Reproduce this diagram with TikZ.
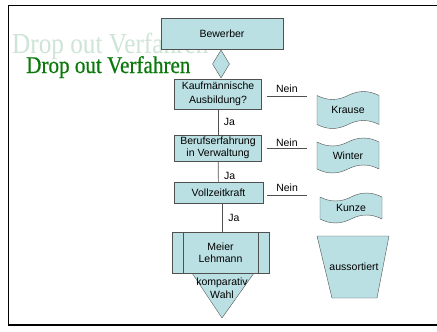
\documentclass[tikz,border=0pt]{standalone}
\usepackage{fontspec}
\usepackage{graphicx}
\setmainfont{Liberation Sans}
\newfontfamily\titlefont[FakeBold=0.6]{Liberation Serif}
\newfontfamily\ghostfont{Liberation Serif}
\usetikzlibrary{shapes.geometric}

\definecolor{boxfill}{RGB}{187,224,227}
\definecolor{titlegreen}{RGB}{10,120,10}
\definecolor{ghostgreen}{RGB}{206,228,214}
\definecolor{linegray}{RGB}{80,80,80}

\tikzset{
  flowbox/.style={draw=linegray, fill=boxfill, inner sep=0pt, align=center,
    font=\fontsize{10.5}{12.5}\selectfont},
  conn/.style={draw=linegray, line width=0.7pt},
  lab/.style={inner sep=1.5pt, font=\fontsize{10.5}{12.5}\selectfont},
}

% lochstreifen: mitte x, mitte y, breite, hoehe
\newcommand{\bandform}[4]{%
  \filldraw[draw=linegray, fill=boxfill, shift={(#1-#3/2,#2-#4/2)}]
    (0,4) .. controls ({#3/6},9.3) and ({#3/3},9.3) .. ({#3/2},4)
          .. controls ({2*#3/3},-1.3) and ({5*#3/6},-1.3) .. (#3,4)
    -- (#3,{#4-4})
          .. controls ({5*#3/6},{#4-9.3}) and ({2*#3/3},{#4-9.3}) .. ({#3/2},{#4-4})
          .. controls ({#3/3},{#4+1.3}) and ({#3/6},{#4+1.3}) .. (0,{#4-4})
    -- cycle;}

\begin{document}
\begin{tikzpicture}[x=1pt, y=-1pt]
\useasboundingbox (0,0) rectangle (437,332);
\fill[white] (0,0) rectangle (437,332);
\draw[line width=1.8pt] (437,5.5) -- (8.5,5.5) -- (8.5,325) -- (437,325);

% titel
\node (ghost) [anchor=base west, inner sep=0pt, text=ghostgreen,
  font=\ghostfont\fontsize{29}{30}\selectfont] at (12,53) {\scalebox{0.87}[1]{Drop out Verfahren}};
\node (titel) [anchor=base west, inner sep=0pt, text=titlegreen,
  font=\titlefont\fontsize{24}{26}\selectfont] at (26,73) {\scalebox{0.88}[1]{Drop out Verfahren}};

% ablauf
\node (bewerber) [flowbox, minimum width=122pt, minimum height=31pt] at (222,33.5) {Bewerber};
\node (entscheid) [diamond, draw=linegray, fill=boxfill, inner sep=0pt,
  minimum width=17pt, minimum height=28pt] at (221,64) {};
\node (kauf) [flowbox, minimum width=87pt, minimum height=30pt,
  font=\fontsize{10.5}{14}\selectfont] at (218,94) {Kaufmännische\\Ausbildung?};
\node (beruf) [flowbox, minimum width=87pt, minimum height=26pt] at (218,148) {Berufserfahrung\\in Verwaltung};
\node (voll) [flowbox, minimum width=89pt, minimum height=21pt] at (218.5,192.5) {Vollzeitkraft};

\filldraw[draw=linegray, fill=boxfill] (192,273) -- (254,273) -- (222,318) -- cycle;
\node (wahl) [lab, align=center, inner sep=0pt] at (222,288) {komparativ\\Wahl};
\node (meier) [flowbox, minimum width=97pt, minimum height=41pt] at (220.5,252.5) {Meier\\Lehmann};
\draw[linegray] ([xshift=11pt]meier.north west) -- ([xshift=11pt]meier.south west);
\draw[linegray] ([xshift=-11pt]meier.north east) -- ([xshift=-11pt]meier.south east);

\draw[conn] (kauf) -- (beruf) node[lab, midway, right, xshift=4pt] {Ja};
\draw[conn] (beruf) -- (voll) node[lab, pos=.7, right, xshift=4pt] {Ja};
\draw[conn] ([xshift=4pt]voll.south) -- ([xshift=4pt]voll.south |- meier.north)
  node[lab, midway, right, xshift=4pt] {Ja};

% absagen
\bandform{348}{110}{62}{37}
\node (krause) [lab] at (348,110) {Krause};
\bandform{348}{155.5}{62}{35}
\node (winter) [lab] at (348,156) {Winter};
\bandform{351}{208}{62}{30}
\node (kunze) [lab] at (351,208) {Kunze};
\filldraw[draw=linegray, fill=boxfill] (317,236) -- (389,236) -- (377,298) -- (332,298) -- cycle;
\node (aus) [lab] at (354,267) {aussortiert};

\coordinate (neinA) at (307,96);
\coordinate (neinB) at (307,148);
\coordinate (neinC) at (307,195);
\draw[conn] (kauf.east |- neinA) ++(5,0) -- (neinA) node[lab, midway, above, yshift=2pt] {Nein};
\draw[conn] (beruf.east |- neinB) ++(5,0) -- (neinB) node[lab, midway, above] {Nein};
\draw[conn] (voll.east |- neinC) ++(4,0) -- (neinC) node[lab, midway, above, yshift=2pt] {Nein};
\end{tikzpicture}
\end{document}
